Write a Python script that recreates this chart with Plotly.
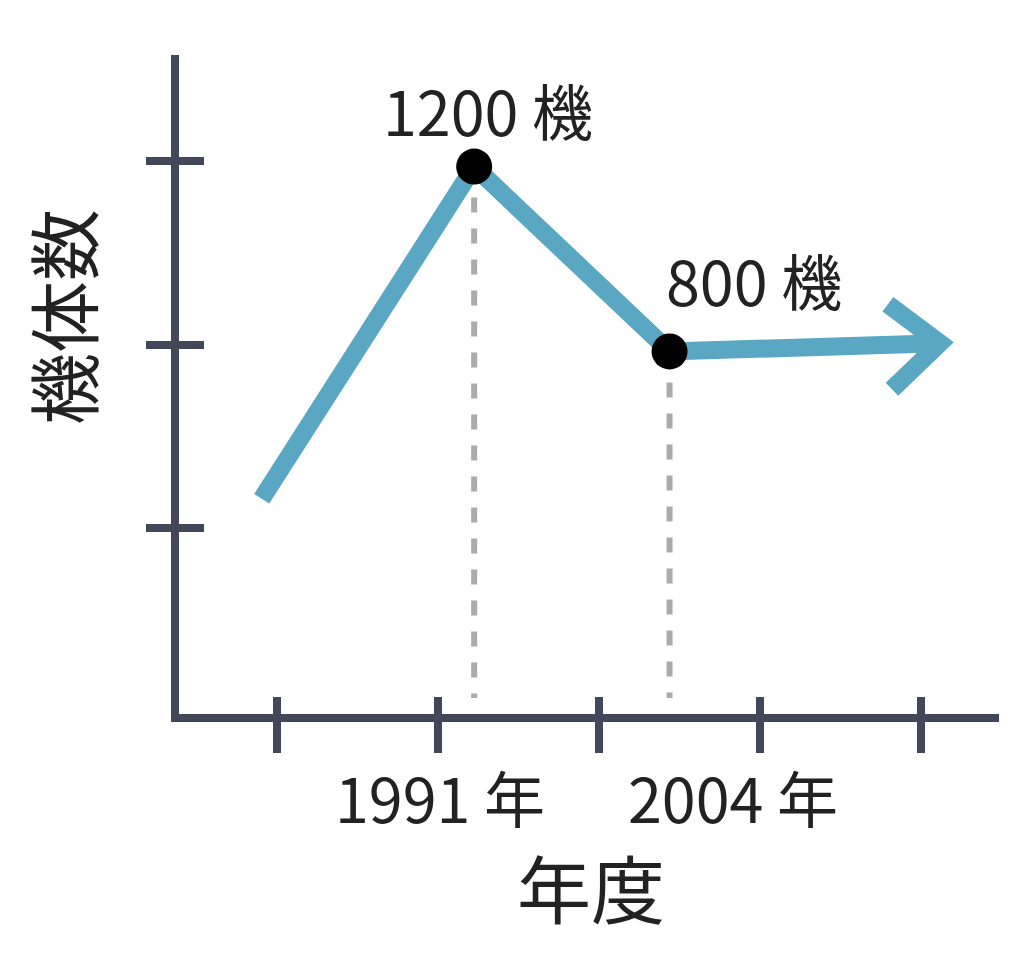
import plotly.graph_objects as go

# ---------------- data ----------------
tick_x = [0, 1, 2, 3, 4]                 # x-axis tick positions (period index)
tick_y = [400, 800, 1200]                # y-axis tick positions (aircraft count)
line_x = [-0.096, 1.224, 2.438, 4.118]   # trend line
line_y = [464, 1188, 785, 803]
point_x = [1.224, 2.438]                 # highlighted points
point_y = [1188, 785]
point_labels = ["1200 機", "800 機"]
year_x = [1.009, 2.835]
year_labels = ["1991 年", "2004 年"]
x_title = "年度"
y_title = "機体数"

# ---------------- layout geometry (screen pixels) ----------------
OFF = 8                                   # default page body margin
W, H = 1024 - OFF, 966 - OFF
L, R, T, B = 179 - OFF, 999 - OFF, 55 - OFF, 714 - OFF   # plot area in figure pixels
XR = [-0.61, 4.485]
YR = [-5, 1431]
DROP_BOTTOM = 30

BLUE = "#5aa7c3"
AXIS = "#424859"
GRAY = "#ababab"
TXT = "#222222"
FONT = "Noto Sans CJK JP"

def px_dx(dpx):
    return dpx * (XR[1] - XR[0]) / (R - L)

def px_dy(dpy):
    return -dpy * (YR[1] - YR[0]) / (B - T)

def paper_x(sx):
    return (sx - OFF - L) / (R - L)

def paper_y(sy):
    return (B - (sy - OFF)) / (B - T)

fig = go.Figure()

# dashed drop lines
for px, py in zip(point_x, point_y):
    fig.add_trace(go.Scatter(x=[px, px], y=[py, DROP_BOTTOM], mode="lines",
                             line=dict(color=GRAY, width=6, dash="15px,16px"),
                             hoverinfo="skip", showlegend=False))

# main trend line
fig.add_trace(go.Scatter(x=line_x, y=line_y, mode="lines",
                         line=dict(color=BLUE, width=18),
                         hoverinfo="skip", showlegend=False))

# arrow head (open chevron) at the end of the line
ax_, ay_ = line_x[-1], line_y[-1]
fig.add_trace(go.Scatter(
    x=[ax_ + px_dx(-52), ax_, ax_ + px_dx(-48)],
    y=[ay_ + px_dy(-39), ay_, ay_ + px_dy(46)],
    mode="lines", line=dict(color=BLUE, width=18),
    hoverinfo="skip", showlegend=False))

# black points
fig.add_trace(go.Scatter(x=point_x, y=point_y, mode="markers",
                         marker=dict(color="black", size=36, line=dict(width=0)),
                         hoverinfo="skip", showlegend=False))

# dummy trace for overlay axes (inside half of the cross ticks)
fig.add_trace(go.Scatter(x=[None], y=[None], xaxis="x2", yaxis="y2",
                         showlegend=False, hoverinfo="skip"))

annotations = []
shifts = [(13.5, 57), (84.5, 72)]
for px, py, lab, (sx, sy) in zip(point_x, point_y, point_labels, shifts):
    annotations.append(dict(x=px, y=py, xref="x", yref="y", text=lab,
                            showarrow=False, xshift=sx, yshift=sy,
                            xanchor="center", yanchor="middle",
                            font=dict(family=FONT, size=61, color=TXT)))
for yx, lab in zip(year_x, year_labels):
    annotations.append(dict(x=yx, y=paper_y(796), xref="x", yref="paper",
                            text=lab, showarrow=False,
                            xanchor="center", yanchor="middle",
                            font=dict(family=FONT, size=61, color=TXT)))
annotations.append(dict(x=paper_x(591), y=paper_y(885), xref="paper", yref="paper",
                        text=x_title, showarrow=False,
                        xanchor="center", yanchor="middle",
                        font=dict(family=FONT, size=74, color=TXT)))
annotations.append(dict(x=paper_x(60), y=paper_y(317), xref="paper", yref="paper",
                        text=y_title, showarrow=False, textangle=-90,
                        xanchor="center", yanchor="middle",
                        font=dict(family=FONT, size=72, color=TXT)))

common = dict(showgrid=False, zeroline=False, showticklabels=False,
              tickwidth=8, tickcolor=AXIS, fixedrange=True)

fig.update_layout(
    width=W, height=H,
    margin=dict(l=L, r=W - R, t=T, b=H - B, pad=0),
    paper_bgcolor="white", plot_bgcolor="white",
    showlegend=False,
    xaxis=dict(range=XR, tickvals=tick_x, ticks="outside", ticklen=31,
               showline=True, linewidth=8, linecolor=AXIS, **common),
    yaxis=dict(range=YR, tickvals=tick_y, ticks="outside", ticklen=25,
               showline=True, linewidth=8, linecolor=AXIS, **common),
    xaxis2=dict(range=XR, tickvals=tick_x, ticks="inside", ticklen=17,
                overlaying="x", anchor="y2", side="bottom", showline=False, **common),
    yaxis2=dict(range=YR, tickvals=tick_y, ticks="inside", ticklen=25,
                overlaying="y", anchor="x2", side="left", showline=False, **common),
    annotations=annotations,
)

fig.write_html("out.html")
